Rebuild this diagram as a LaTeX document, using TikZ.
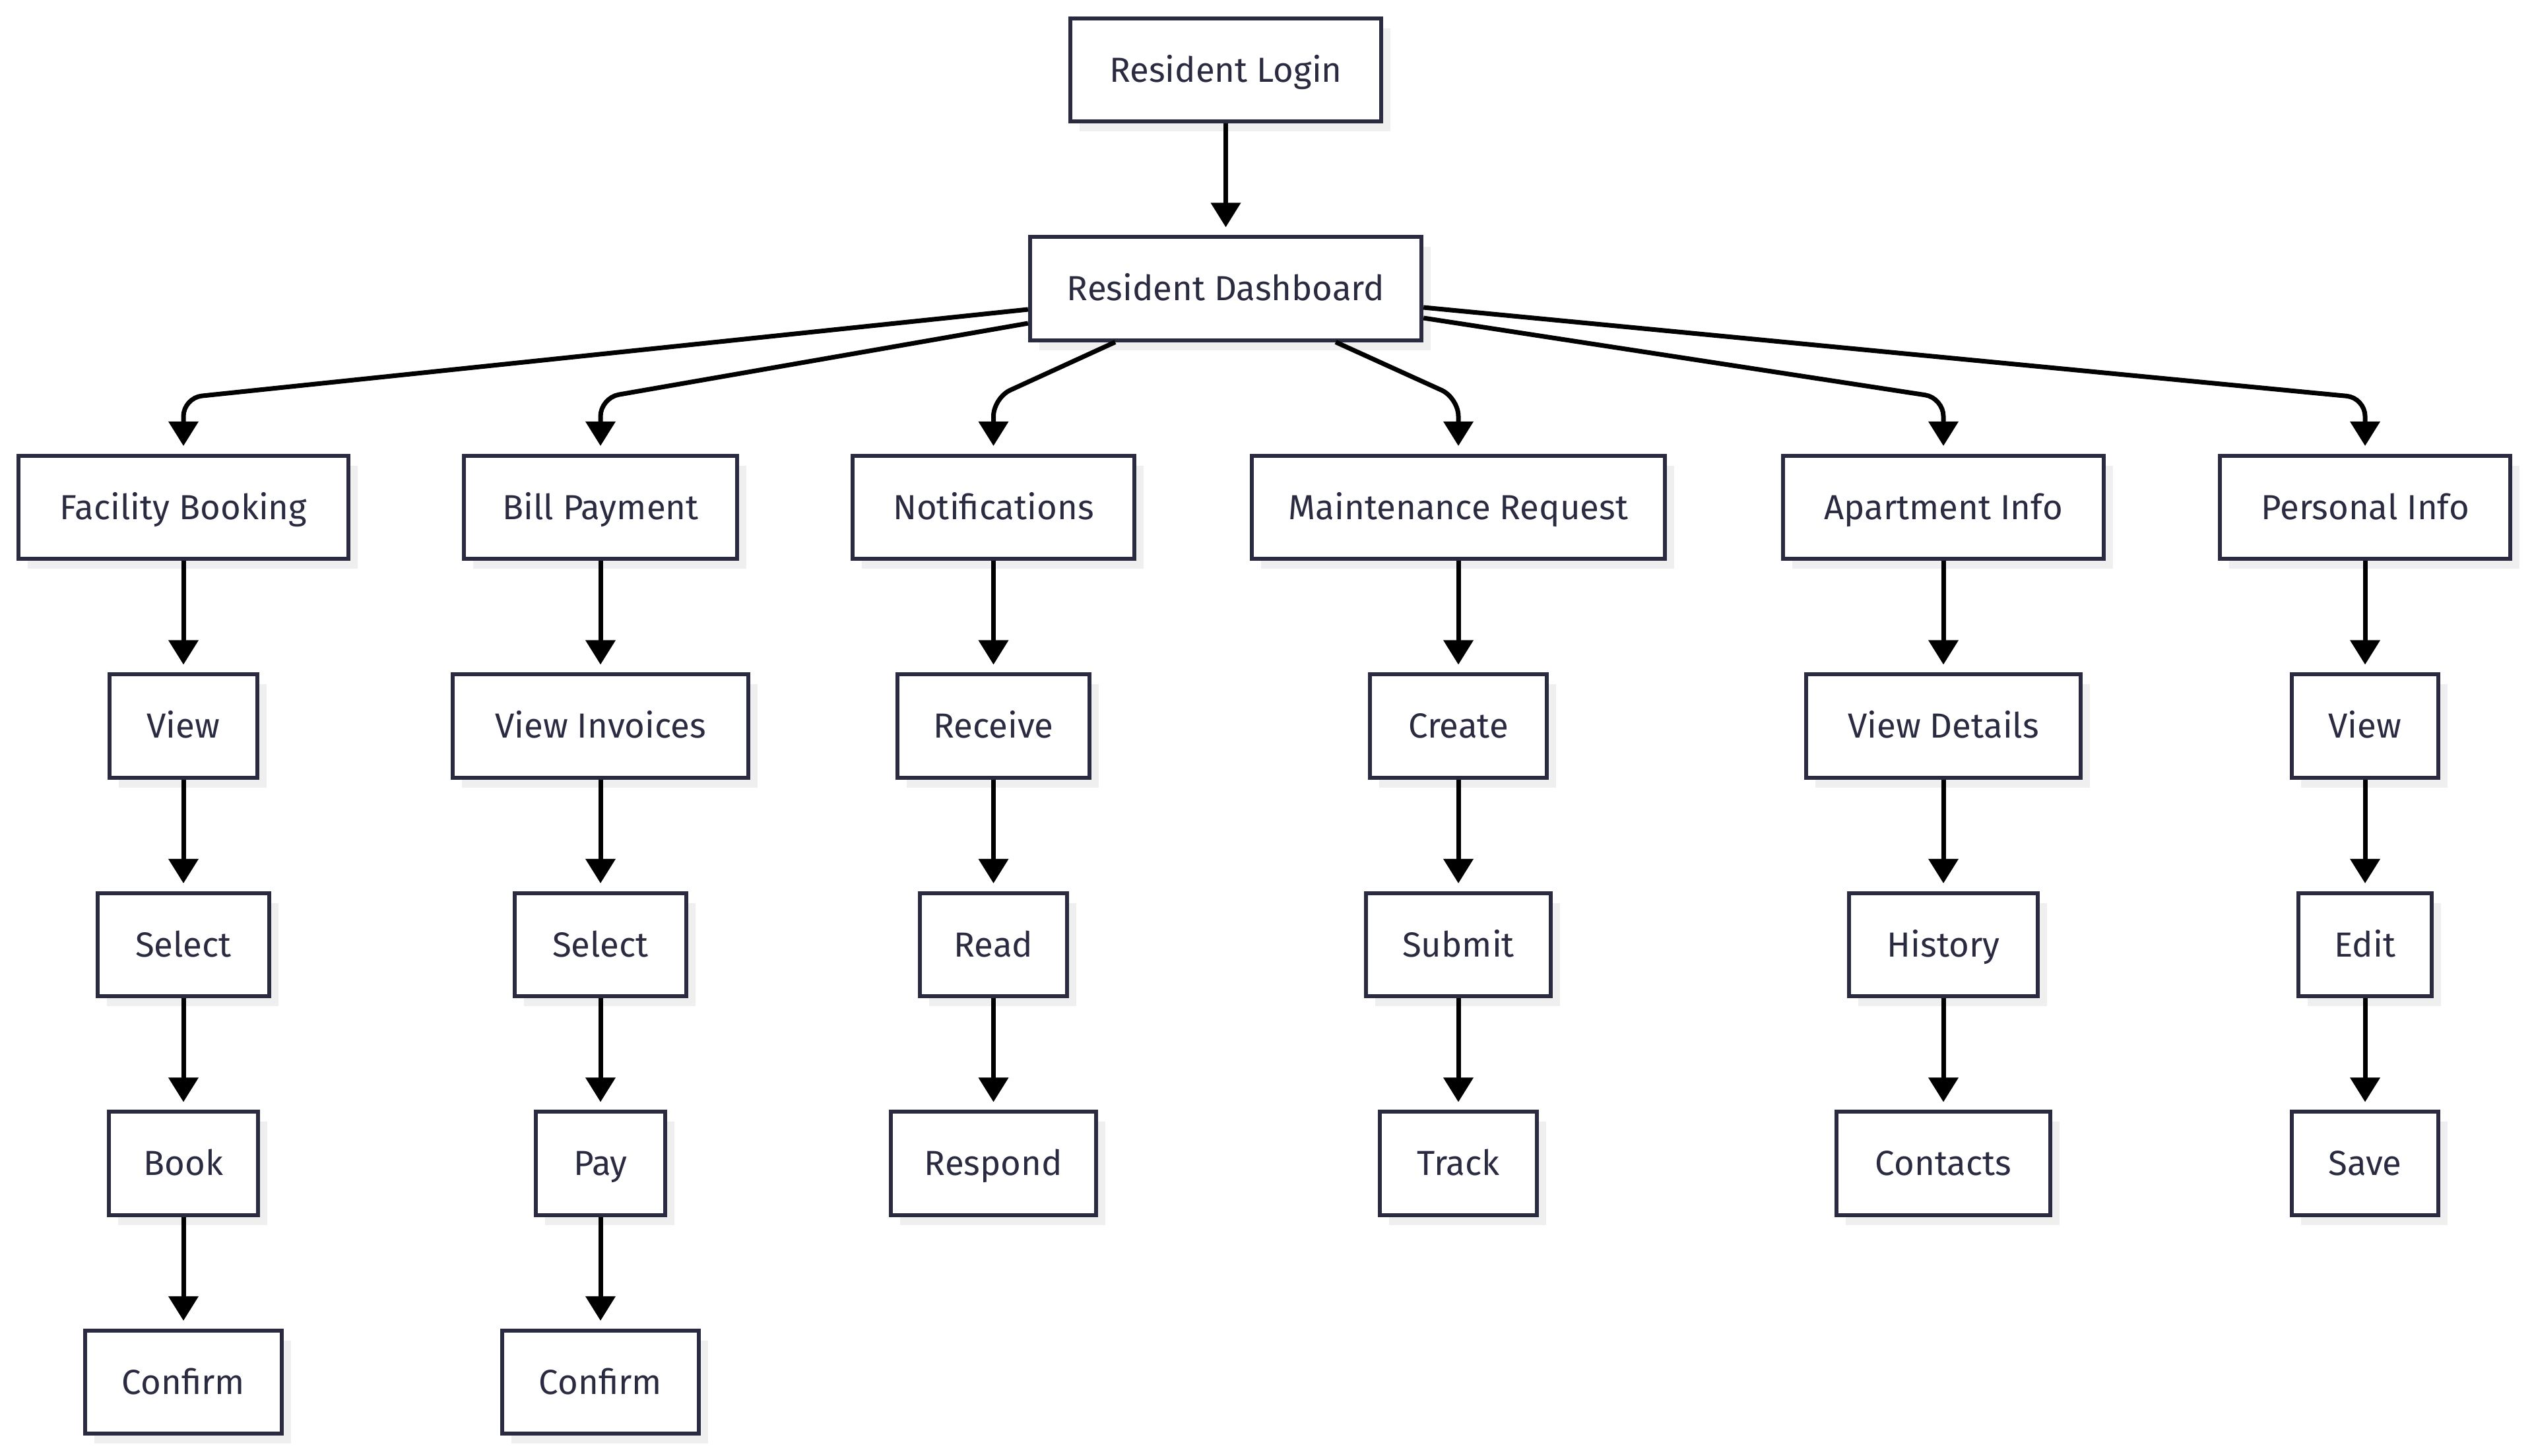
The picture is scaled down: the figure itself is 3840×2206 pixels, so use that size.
\documentclass[tikz,border=0pt]{standalone}
\usepackage{fontspec}
\setmainfont{Fira Sans}
\usetikzlibrary{arrows.meta,shadows}
\definecolor{ink}{HTML}{2A2A40}
\definecolor{shadowgray}{HTML}{EFEFEF}
\begin{document}
\begin{tikzpicture}[x=0.01cm,y=-0.01cm,
  box/.style={draw=ink, line width=0.06cm, fill=white, rectangle, inner sep=0pt,
    minimum height=1.56cm, text=ink, font=\fontsize{15pt}{18pt}\selectfont,
    text height=10.3pt, text depth=0pt,
    drop shadow={shadow xshift=0.14cm, shadow yshift=-0.15cm, fill=shadowgray, opacity=1}},
  arr/.style={draw=black, line width=0.07cm, -{Triangle[length=0.37cm,width=0.44cm]}, shorten >=0.12cm},
  fan/.style={arr, rounded corners=0.28cm}]
\useasboundingbox (0,0) rectangle (3840,2206);
% rows
\node[box, minimum width=4.71cm] (login) at (1857.5,106) {Resident Login};
\node[box, minimum width=5.93cm] (dash) at (1857.5,437.5) {Resident Dashboard};
\node[box, minimum width=5.00cm] (fac) at (278,769) {Facility Booking};
\node[box, minimum width=4.14cm] (bill) at (910,769) {Bill Payment};
\node[box, minimum width=4.27cm] (notif) at (1505.5,769) {Notifications};
\node[box, minimum width=6.26cm] (maint) at (2210,769) {Maintenance Request};
\node[box, minimum width=4.86cm] (apt) at (2945,769) {Apartment Info};
\node[box, minimum width=4.40cm] (pers) at (3584,769) {Personal Info};
% row 3
\node[box, minimum width=2.24cm] (fview) at (278,1100.5) {View};
\node[box, minimum width=4.47cm] (binv) at (910,1100.5) {View Invoices};
\node[box, minimum width=2.90cm] (nrec) at (1505.5,1100.5) {Receive};
\node[box, minimum width=2.68cm] (mcre) at (2210,1100.5) {Create};
\node[box, minimum width=4.15cm] (adet) at (2945,1100.5) {View Details};
\node[box, minimum width=2.22cm] (pview) at (3584,1100.5) {View};
% row 4
\node[box, minimum width=2.59cm] (fsel) at (278,1432) {Select};
\node[box, minimum width=2.59cm] (bsel) at (910,1432) {Select};
\node[box, minimum width=2.22cm] (nread) at (1505.5,1432) {Read};
\node[box, minimum width=2.80cm] (msub) at (2210,1432) {Submit};
\node[box, minimum width=2.86cm] (ahist) at (2945,1432) {History};
\node[box, minimum width=2.02cm] (pedit) at (3584,1432) {Edit};
% row 5
\node[box, minimum width=2.26cm] (fbook) at (278,1763.5) {Book};
\node[box, minimum width=1.96cm] (bpay) at (910,1763.5) {Pay};
\node[box, minimum width=3.10cm] (nresp) at (1505.5,1763.5) {Respond};
\node[box, minimum width=2.38cm] (mtrack) at (2210,1763.5) {Track};
\node[box, minimum width=3.24cm] (acont) at (2945,1763.5) {Contacts};
\node[box, minimum width=2.22cm] (psave) at (3584,1763.5) {Save};
% row 6
\node[box, minimum width=2.97cm] (fconf) at (278,2095) {Confirm};
\node[box, minimum width=2.98cm] (bconf) at (910,2095) {Confirm};
% connectors
\coordinate (bus) at (0,603);
\draw[arr] (login) -- (dash);
\draw[fan] ([yshift=-0.315cm]dash.west) -- (fac.north |- bus) -- (fac.north);
\draw[fan] ([yshift=-0.525cm]dash.west) -- (bill.north |- bus) -- (bill.north);
\draw[fan] ([xshift=-1.675cm]dash.south) -- (notif.north |- bus) -- (notif.north);
\draw[fan] ([xshift=1.665cm]dash.south) -- (maint.north |- bus) -- (maint.north);
\draw[fan] ([yshift=-0.445cm]dash.east) -- (apt.north |- bus) -- (apt.north);
\draw[fan] ([yshift=-0.285cm]dash.east) -- (pers.north |- bus) -- (pers.north);
\foreach \a/\b in {fac/fview,fview/fsel,fsel/fbook,fbook/fconf,
  bill/binv,binv/bsel,bsel/bpay,bpay/bconf,
  notif/nrec,nrec/nread,nread/nresp,
  maint/mcre,mcre/msub,msub/mtrack,
  apt/adet,adet/ahist,ahist/acont,
  pers/pview,pview/pedit,pedit/psave}
  \draw[arr] (\a) -- (\b);
\end{tikzpicture}
\end{document}
